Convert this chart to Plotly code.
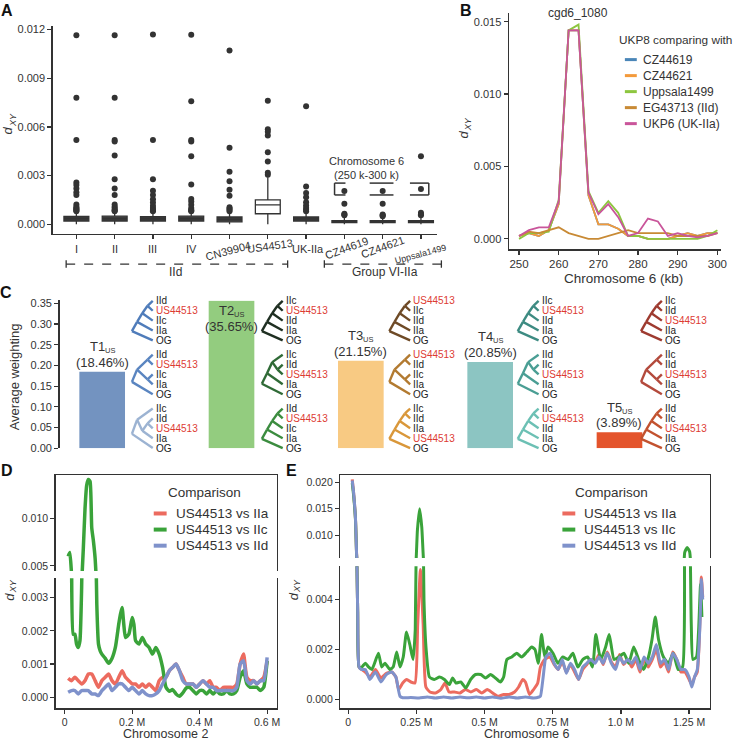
import plotly.graph_objects as go

W, H = 738, 747
def px(x): return x / W
def py(y): return 1 - y / H

FONT = "Arial, 'Liberation Sans', sans-serif"
DARK = "#333333"

# ---------------- Panel A data ----------------
A_CATS = ["I", "II", "III", "IV", "CN39904", "US44513", "UK-IIa", "CZ44619", "CZ44621", "Uppsala1499"]
A_Q1 = [0.0002, 0.0002, 0.0002, 0.0002, 0.00015, 0.00065, 0.0002, 0.0001, 0.0001, 0.0001]
A_MED = [0.00035, 0.00035, 0.00033, 0.00035, 0.0003, 0.0012, 0.00033, 0.00015, 0.00015, 0.00015]
A_Q3 = [0.00048, 0.0005, 0.00047, 0.0005, 0.00045, 0.0015, 0.00045, 0.00022, 0.00022, 0.00022]
A_LO = [0.0, 0.0, 0.0, 0.0, 0.0, 0.0, 0.0, 0.0, 0.0, 0.0]
A_HI = [0.00075, 0.00078, 0.00075, 0.00078, 0.00072, 0.0029, 0.00075, 0.0005, 0.00048, 0.0005]
OUT_I = [0.01166, 0.0078, 0.0052, 0.00257, 0.00242, 0.0022, 0.00197, 0.0018, 0.00122, 0.00108, 0.001, 0.00095, 0.0009, 0.00085, 0.0008]
OUT_II = [0.01166, 0.0078, 0.0052, 0.0051, 0.00424, 0.00278, 0.0022, 0.0018, 0.00122, 0.00108, 0.001, 0.0009, 0.00085, 0.0008]
OUT_III = [0.0117, 0.0052, 0.00278, 0.00207, 0.0018, 0.00155, 0.00135, 0.00115, 0.001, 0.0009, 0.00085, 0.0008]
OUT_IV = [0.01168, 0.00758, 0.0052, 0.0051, 0.0042, 0.00245, 0.00156, 0.0014, 0.0012, 0.001, 0.0009, 0.00085, 0.0008]
OUT_CN = [0.01072, 0.00472, 0.00324, 0.00266, 0.00213, 0.00176, 0.00105, 0.00095, 0.0009, 0.0008]
OUT_US = [0.00762, 0.00586, 0.0057, 0.00547, 0.00444, 0.00387, 0.00318, 0.00306]
OUT_UK = [0.00728, 0.00233, 0.00193, 0.00166, 0.00136, 0.00116, 0.001, 0.0009, 0.0008]
OUT_CZ19 = [0.00205, 0.00126, 0.00065, 0.0006, 0.00055]
OUT_CZ21 = [0.00205, 0.00126, 0.0006, 0.00055, 0.0005]
OUT_UPP = [0.0042, 0.00217, 0.00071, 0.00062, 0.00055]
A_OUTLIERS = [OUT_I, OUT_II, OUT_III, OUT_IV, OUT_CN, OUT_US, OUT_UK, OUT_CZ19, OUT_CZ21, OUT_UPP]
A_YTICKS = [0.0, 0.003, 0.006, 0.009, 0.012]

# ---------------- Panel B data ----------------
B_X = [250, 252.5, 255, 257.5, 260, 262.5, 265, 267.5, 270, 272.5, 275, 277.5, 280, 282.5, 285, 287.5, 290, 292.5, 295, 297.5, 300]
B_CZ44619 = [0.0002, 0.0004, 0.0002, 0.0006, 0.0024, 0.0144, 0.0144, 0.003, 0.001, 0.001, 0.0007, 0.0002, 0.0002, 0.0, 0.0, 0.0, 0.0002, 0.0004, 0.0002, 0.0004, 0.0004]
B_CZ44621 = [0.0002, 0.0004, 0.0002, 0.0006, 0.0024, 0.0144, 0.0144, 0.003, 0.001, 0.001, 0.0007, 0.0002, 0.0002, 0.0, 0.0, 0.0, 0.0002, 0.0004, 0.0002, 0.0004, 0.0004]
B_UPPSALA = [0.0, 0.0004, 0.0004, 0.0005, 0.0027, 0.0144, 0.0148, 0.0033, 0.0018, 0.0026, 0.0018, 0.0002, 0.0002, 0.0, 0.0, 0.0, 0.0, 0.0, 0.0, 0.0002, 0.0006]
B_EG43713 = [0.0002, 0.0005, 0.0004, 0.0006, 0.0008, 0.0004, 0.0002, 0.0, 0.0, 0.0002, 0.0004, 0.0006, 0.0004, 0.0004, 0.0004, 0.0004, 0.0002, 0.0002, 0.0002, 0.0002, 0.0004]
B_UKP6 = [0.0002, 0.0006, 0.0008, 0.0008, 0.0026, 0.0144, 0.0144, 0.0032, 0.0017, 0.0024, 0.0015, 0.0002, 0.0004, 0.0014, 0.0012, 0.0002, 0.0004, 0.0002, 0.0001, 0.0002, 0.0004]
B_NAMES = ["CZ44619", "CZ44621", "Uppsala1499", "EG43713 (IId)", "UKP6 (UK-IIa)"]
B_COLORS = ["#4a86b8", "#f39a3b", "#8dc63f", "#c88a35", "#c9559a"]

# ---------------- Panel C data ----------------
C_LABELS = ["T1", "T2", "T3", "T4", "T5"]
C_VALUES = [0.1846, 0.3565, 0.2115, 0.2085, 0.0389]
C_PCT = ["(18.46%)", "(35.65%)", "(21.15%)", "(20.85%)", "(3.89%)"]
C_COLORS = ["#7393c0", "#93cc7f", "#f8ca83", "#8cc5c2", "#e4542c"]
C_TREE_LABELS = [
    [["IId", "US44513", "IIc", "IIa", "OG"], ["IId", "US44513", "IIc", "IIa", "OG"], ["IIc", "IId", "US44513", "IIa", "OG"]],
    [["IIc", "US44513", "IId", "IIa", "OG"], ["IIc", "IId", "US44513", "IIa", "OG"], ["IId", "US44513", "IIc", "IIa", "OG"]],
    [["US44513", "IIc", "IId", "IIa", "OG"], ["US44513", "IId", "IIc", "IIa", "OG"], ["IIc", "IId", "IIa", "US44513", "OG"]],
    [["IIc", "US44513", "IId", "IIa", "OG"], ["IId", "IIc", "US44513", "IIa", "OG"], ["IIc", "US44513", "IId", "IIa", "OG"]],
    [["IIc", "IId", "US44513", "IIa", "OG"], ["IIc", "IId", "US44513", "IIa", "OG"], ["IId", "IIc", "US44513", "IIa", "OG"]],
]
C_TREE_TOPO = [
    [((((0, 1), 2), 3), 4), (((0, 1), (2, 3)), 4), ((0, ((1, 2), 3)), 4)],
    [((((0, 1), 2), 3), 4), (((0, (1, 2)), 3), 4), ((((0, 1), 2), 3), 4)],
    [((((0, 1), 2), 3), 4), (((0, 1), (2, 3)), 4), ((((0, 1), 2), 3), 4)],
    [((((0, 1), 2), 3), 4), (((0, (1, 2)), 3), 4), ((((0, 1), 2), 3), 4)],
    [((((0, 1), 2), 3), 4), (((0, 1), (2, 3)), 4), ((((0, 1), 2), 3), 4)],
]
C_TREE_COLORS = [
    ["#4f7cba", "#5a85c0", "#9cb3d2"],
    ["#1f2f22", "#2f6a36", "#3b8c3f"],
    ["#6e4a26", "#b27a30", "#d9973a"],
    ["#3d8b82", "#4a9e94", "#6cc0b4"],
    ["#9e3b30", "#b34a3c", "#c2522f"],
]

# ---------------- Panel D data ----------------
D_X = [0.01, 0.02, 0.03, 0.04, 0.05, 0.06, 0.07, 0.08, 0.09, 0.1, 0.11, 0.12, 0.13, 0.14, 0.15, 0.16, 0.17, 0.18, 0.19, 0.2,
       0.21, 0.22, 0.23, 0.24, 0.25, 0.26, 0.27, 0.28, 0.29, 0.3, 0.31, 0.32, 0.33, 0.34, 0.35, 0.36, 0.37, 0.38, 0.39, 0.4,
       0.41, 0.42, 0.43, 0.44, 0.45, 0.46, 0.47, 0.48, 0.49, 0.5, 0.51, 0.52, 0.53, 0.54, 0.55, 0.56, 0.57, 0.58, 0.59, 0.6]
D_IIA = [0.00057, 0.0005, 0.0006, 0.0005, 0.0004, 0.0005, 0.0007, 0.0007, 0.0005, 0.0003, 0.0005, 0.0006, 0.0007, 0.0005, 0.0004, 0.0006, 0.0008, 0.0006, 0.0005, 0.0004,
         0.0004, 0.0003, 0.0004, 0.0003, 0.0004, 0.0003, 0.0002, 0.0005, 0.0006, 0.0006, 0.0008, 0.0009, 0.001, 0.0008, 0.0006, 0.0004, 0.0004, 0.0004, 0.0003, 0.0004,
         0.0005, 0.0004, 0.0005, 0.0003, 0.0003, 0.0002, 0.0003, 0.0003, 0.0003, 0.0003, 0.0004, 0.001, 0.0013, 0.0006, 0.0005, 0.0005, 0.0004, 0.0005, 0.0006, 0.0011]
D_IID = [0.00015, 0.0002, 0.0002, 0.0001, 0.0002, 0.0002, 0.0002, 0.0001, 0.0001, 0.00005, 0.0002, 0.0003, 0.0004, 0.0002, 0.0003, 0.0004, 0.0004, 0.0003, 0.0002, 0.0003,
         0.0002, 0.0001, 0.0002, 0.0001, 0.00005, 0.00005, 0.0001, 0.0002, 0.0004, 0.0006, 0.0008, 0.0009, 0.001, 0.0008, 0.0005, 0.0004, 0.0004, 0.0004, 0.0003, 0.0004,
         0.0005, 0.0004, 0.0003, 0.0003, 0.0002, 0.0002, 0.0002, 0.0002, 0.0002, 0.0002, 0.0003, 0.001, 0.0011, 0.0005, 0.0004, 0.0005, 0.0004, 0.0005, 0.0005, 0.0012]
D_IIC_X = [0.01, 0.015, 0.02, 0.025, 0.03, 0.035, 0.04, 0.045, 0.05, 0.055, 0.06, 0.065, 0.07, 0.075, 0.08, 0.085, 0.09, 0.095, 0.1, 0.105,
           0.11, 0.12, 0.13, 0.14, 0.15, 0.16, 0.165, 0.17, 0.175, 0.18, 0.19, 0.2, 0.205, 0.21, 0.22, 0.23, 0.24, 0.25, 0.26, 0.27,
           0.28, 0.29, 0.3, 0.31, 0.32, 0.33, 0.34, 0.35, 0.36, 0.37, 0.38, 0.39, 0.4, 0.41, 0.42, 0.43, 0.44, 0.45, 0.46, 0.47,
           0.48, 0.49, 0.5, 0.51, 0.52, 0.53, 0.54, 0.55, 0.56, 0.57, 0.58, 0.59, 0.6]
D_IIC = [0.006, 0.0064, 0.0042, 0.0019, 0.0019, 0.0016, 0.0015, 0.0017, 0.0033, 0.0068, 0.011, 0.0135, 0.0141, 0.0139, 0.009, 0.0076, 0.0058, 0.0028, 0.0016, 0.0014,
         0.0013, 0.00117, 0.00102, 0.00117, 0.0015, 0.0022, 0.0025, 0.0027, 0.0022, 0.0018, 0.0019, 0.0024, 0.0022, 0.0017, 0.0016, 0.0018, 0.0016, 0.0015, 0.0013, 0.0015,
         0.0013, 0.0009, 0.0003, 0.00018, 0.00023, 0.0001, 0.00003, 0.00013, 0.00028, 0.0003, 0.0002, 0.0001, 0.0002, 0.0002, 0.0001, 0.0002, 0.0001, 0.0002, 0.0001, 0.0001,
         0.0002, 0.0001, 0.0001, 0.0002, 0.0006, 0.0008, 0.0004, 0.0003, 0.0003, 0.0003, 0.0002, 0.0003, 0.0011]

# ---------------- Panel E data ----------------
E_IIA_X = [0.015, 0.02, 0.027, 0.031, 0.035, 0.04, 0.05, 0.063, 0.08, 0.1, 0.12, 0.14, 0.16, 0.175, 0.185, 0.2, 0.215, 0.23, 0.245, 0.255,
           0.265, 0.275, 0.285, 0.3, 0.32, 0.34, 0.355, 0.37, 0.39, 0.41, 0.43, 0.45, 0.47, 0.49, 0.51, 0.53, 0.55, 0.57, 0.59, 0.61,
           0.625, 0.64, 0.65, 0.665, 0.68, 0.695, 0.705, 0.72, 0.74, 0.755, 0.77, 0.785, 0.8, 0.815, 0.83, 0.845, 0.86, 0.875, 0.89, 0.905,
           0.92, 0.935, 0.95, 0.965, 0.98, 0.995, 1.01, 1.025, 1.04, 1.055, 1.07, 1.085, 1.1, 1.115, 1.13, 1.145, 1.16, 1.175, 1.19, 1.205,
           1.22, 1.235, 1.25, 1.26, 1.27, 1.28, 1.29, 1.295, 1.3]
E_IIA = [0.0205, 0.018, 0.013, 0.0065, 0.0035, 0.0013, 0.0012, 0.0011, 0.0009, 0.0012, 0.00086, 0.00105, 0.0011, 0.0009, 0.0004, 0.00066, 0.0008, 0.0007, 0.00066, 0.003,
         0.0052, 0.003, 0.0005, 0.0003, 0.00026, 0.0004, 0.00066, 0.0003, 0.0003, 0.00026, 0.0004, 0.0003, 0.0004, 0.00026, 0.0004, 0.00026, 0.00013, 0.0002, 0.0002, 0.0003,
         0.0005, 0.0008, 0.0007, 0.0002, 0.0004, 0.00066, 0.0013, 0.0016, 0.0017, 0.0014, 0.0012, 0.0015, 0.0011, 0.0014, 0.0011, 0.0008, 0.0012, 0.0014, 0.0016, 0.0015,
         0.0018, 0.0014, 0.0019, 0.0015, 0.0013, 0.0018, 0.0014, 0.0016, 0.0013, 0.0016, 0.0011, 0.0016, 0.0013, 0.0016, 0.002, 0.0013, 0.0015, 0.0011, 0.0019, 0.0016,
         0.0011, 0.0011, 0.0008, 0.0006, 0.0009, 0.0011, 0.0032, 0.0049, 0.0041]
E_IID_X = [0.015, 0.02, 0.027, 0.031, 0.035, 0.04, 0.05, 0.063, 0.08, 0.1, 0.12, 0.14, 0.16, 0.175, 0.19, 0.2, 0.23, 0.26, 0.29, 0.32,
           0.35, 0.38, 0.41, 0.44, 0.47, 0.5, 0.53, 0.56, 0.59, 0.62, 0.65, 0.68, 0.7, 0.705, 0.715, 0.725, 0.74, 0.755, 0.77, 0.785,
           0.8, 0.815, 0.83, 0.845, 0.86, 0.875, 0.89, 0.905, 0.92, 0.935, 0.95, 0.965, 0.98, 0.995, 1.01, 1.025, 1.04, 1.055, 1.07, 1.085,
           1.1, 1.115, 1.13, 1.145, 1.16, 1.175, 1.19, 1.205, 1.22, 1.235, 1.25, 1.26, 1.27, 1.28, 1.29, 1.295, 1.3]
E_IID = [0.0203, 0.018, 0.0131, 0.0064, 0.0035, 0.0013, 0.0012, 0.0012, 0.0008, 0.0011, 0.0007, 0.001, 0.0011, 0.0009, 0.00013, 0.00007, 0.00008, 0.00006, 0.0001, 0.00006,
         0.0001, 0.00006, 0.0001, 0.00007, 0.0001, 0.00006, 0.0001, 0.00005, 0.0001, 0.00006, 0.0001, 0.00006, 0.0001, 0.00013, 0.0009, 0.0017, 0.00185, 0.00145, 0.0012, 0.0016,
         0.00105, 0.00145, 0.0012, 0.0008, 0.0013, 0.00145, 0.0016, 0.00145, 0.0017, 0.00145, 0.00185, 0.00145, 0.0012, 0.0017, 0.00145, 0.0016, 0.00145, 0.0017, 0.0012, 0.0017,
         0.00145, 0.0017, 0.0022, 0.00145, 0.0016, 0.0012, 0.00185, 0.0016, 0.0012, 0.0012, 0.0009, 0.0005, 0.0009, 0.0012, 0.003, 0.0048, 0.004]
E_IIC_X = [0.015, 0.02, 0.027, 0.031, 0.035, 0.04, 0.05, 0.063, 0.075, 0.087, 0.111, 0.123, 0.135, 0.153, 0.165, 0.178, 0.19, 0.202, 0.214, 0.226,
           0.238, 0.246, 0.254, 0.262, 0.27, 0.278, 0.286, 0.298, 0.316, 0.335, 0.353, 0.371, 0.383, 0.395, 0.413, 0.431, 0.449, 0.467, 0.486, 0.504,
           0.522, 0.54, 0.558, 0.57, 0.582, 0.6, 0.618, 0.636, 0.655, 0.673, 0.685, 0.697, 0.709, 0.721, 0.733, 0.751, 0.769, 0.787, 0.806, 0.824,
           0.842, 0.86, 0.878, 0.896, 0.908, 0.926, 0.944, 0.957, 0.975, 0.993, 1.011, 1.029, 1.047, 1.065, 1.083, 1.101, 1.114, 1.126, 1.138, 1.156,
           1.174, 1.192, 1.21, 1.226, 1.234, 1.243, 1.252, 1.258, 1.264, 1.277, 1.285, 1.292, 1.297]
E_IIC = [0.0198, 0.0175, 0.0128, 0.0063, 0.0035, 0.0013, 0.0013, 0.00145, 0.0013, 0.0012, 0.00185, 0.0013, 0.00145, 0.0012, 0.0013, 0.0019, 0.0013, 0.0017, 0.0027, 0.0022,
         0.0016, 0.0028, 0.011, 0.015, 0.0115, 0.004, 0.002, 0.0009, 0.0008, 0.0009, 0.0008, 0.0006, 0.00086, 0.00066, 0.0007, 0.00046, 0.0008, 0.001, 0.001, 0.00086,
         0.001, 0.00086, 0.0007, 0.0009, 0.0016, 0.0017, 0.00185, 0.0017, 0.0019, 0.0021, 0.002, 0.00145, 0.0026, 0.0017, 0.0021, 0.00185, 0.00145, 0.0017, 0.0016, 0.00185,
         0.0013, 0.0016, 0.0017, 0.0013, 0.0026, 0.0016, 0.0021, 0.0026, 0.0016, 0.0017, 0.00185, 0.00145, 0.0021, 0.0016, 0.0012, 0.0017, 0.0024, 0.0033, 0.0024, 0.0017,
         0.00145, 0.00185, 0.0012, 0.0013, 0.0068, 0.0077, 0.0069, 0.003, 0.0016, 0.0017, 0.0028, 0.0046, 0.0033]

DE_NAMES = ["US44513 vs IIa", "US44513 vs IIc", "US44513 vs IId"]
DE_COLORS = ["#ec6b5f", "#3aa33a", "#7f92cb"]

# ================= build figure =================
fig = go.Figure()
shapes, annos = [], []

def ann(x, y, text, size=11, color=DARK, xanchor="center", yanchor="middle", angle=0, bold=False, xref="paper", yref="paper", **kw):
    if bold:
        text = "<b>" + text + "</b>"
    annos.append(dict(x=x, y=y, xref=xref, yref=yref, text=text, showarrow=False,
                      xanchor=xanchor, yanchor=yanchor, textangle=angle,
                      font=dict(size=size, color=color, family=FONT), **kw))

def line(x0, y0, x1, y1, color=DARK, width=1.3, dash="solid"):
    shapes.append(dict(type="line", xref="paper", yref="paper", x0=px(x0), y0=py(y0), x1=px(x1), y1=py(y1),
                       line=dict(color=color, width=width, dash=dash)))

def dxy_title(xc, yc):
    # rotated italic "d" with smaller subscript "XY" (reads bottom-to-top)
    ann(px(xc - 1.5), py(yc + 5.5), "<i>d</i>", size=13, angle=-90, borderpad=0)
    ann(px(xc + 2.5), py(yc - 5), "<i>XY</i>", size=9, angle=-90, borderpad=0)

# ---- Panel A ----
pos = list(range(len(A_CATS)))
dark_idx = [i for i in pos if A_CATS[i] != "US44513"]
white_idx = [i for i in pos if A_CATS[i] == "US44513"]
for idx, fill in ((dark_idx, "#3a3a3a"), (white_idx, "white")):
    fig.add_trace(go.Box(x=[pos[i] for i in idx], q1=[A_Q1[i] for i in idx], median=[A_MED[i] for i in idx],
                         q3=[A_Q3[i] for i in idx], lowerfence=[A_LO[i] for i in idx], upperfence=[A_HI[i] for i in idx],
                         width=0.65, whiskerwidth=0, fillcolor=fill, line=dict(color=DARK, width=1.3),
                         boxpoints=False, xaxis="x", yaxis="y", showlegend=False, hoverinfo="skip"))
ox, oy = [], []
for i, outs in enumerate(A_OUTLIERS):
    ox += [pos[i]] * len(outs)
    oy += outs
fig.add_trace(go.Scatter(x=ox, y=oy, mode="markers", marker=dict(color=DARK, size=6), xaxis="x", yaxis="y",
                         showlegend=False, hoverinfo="skip"))

# ---- Panel B ----
for vals, name, col in zip([B_CZ44619, B_CZ44621, B_UPPSALA, B_EG43713, B_UKP6], B_NAMES, B_COLORS):
    fig.add_trace(go.Scatter(x=B_X, y=vals, mode="lines", line=dict(color=col, width=1.8), name=name,
                             xaxis="x2", yaxis="y2", showlegend=False, hoverinfo="skip"))

# ---- Panel C ----
fig.add_trace(go.Bar(x=list(range(len(C_VALUES))), y=C_VALUES, width=0.353, marker=dict(color=C_COLORS, line=dict(width=0)),
                     xaxis="x3", yaxis="y3", showlegend=False, hoverinfo="skip"))

# ---- Panel D & E (broken axes: bottom + top parts) ----
for xs, ys, col in ((D_X, D_IIA, DE_COLORS[0]), (D_IIC_X, D_IIC, DE_COLORS[1]), (D_X, D_IID, DE_COLORS[2])):
    for xa, ya in (("x4", "y4"), ("x5", "y5")):
        fig.add_trace(go.Scatter(x=xs, y=ys, mode="lines", line=dict(color=col, width=3.5, shape="spline", smoothing=0.5),
                                 xaxis=xa, yaxis=ya, showlegend=False, hoverinfo="skip"))
for xs, ys, col in ((E_IIA_X, E_IIA, DE_COLORS[0]), (E_IIC_X, E_IIC, DE_COLORS[1]), (E_IID_X, E_IID, DE_COLORS[2])):
    for xa, ya in (("x6", "y6"), ("x7", "y7")):
        fig.add_trace(go.Scatter(x=xs, y=ys, mode="lines", line=dict(color=col, width=3, shape="spline", smoothing=0.5),
                                 xaxis=xa, yaxis=ya, showlegend=False, hoverinfo="skip"))

# ---------- axes ----------
def ax_common(**kw):
    d = dict(showgrid=False, zeroline=False, showline=True, linecolor=DARK, linewidth=1.3,
             ticks="outside", ticklen=4, tickwidth=1.2, tickcolor=DARK,
             tickfont=dict(size=11, color=DARK, family=FONT), fixedrange=True)
    d.update(kw)
    return d

TF105 = dict(size=10.5, color=DARK, family=FONT)
layout = dict(
    width=W, height=H, margin=dict(l=0, r=0, t=0, b=0), paper_bgcolor="white", plot_bgcolor="rgba(0,0,0,0)",
    font=dict(family=FONT, color=DARK), hovermode=False, showlegend=False,
    # A
    xaxis=ax_common(domain=[px(53), px(441)], range=[-0.622, 9.43], tickvals=pos, showticklabels=False, anchor="y"),
    yaxis=ax_common(domain=[py(234), py(23)], range=[-0.00061, 0.01224], tickvals=A_YTICKS, tickformat=".3f", anchor="x"),
    # B
    xaxis2=ax_common(domain=[px(513), px(727)], range=[247.43, 300.93], tickvals=[250, 260, 270, 280, 290, 300],
                     tickfont=dict(size=11.5, color=DARK, family=FONT), anchor="y2"),
    yaxis2=ax_common(domain=[py(249.3), py(10)], range=[-0.00072, 0.01561], tickvals=[0, 0.005, 0.01, 0.015], tickformat=".3f", anchor="x2"),
    # C
    xaxis3=dict(domain=[px(60), 1], range=[-0.33, 4.87], visible=False, fixedrange=True, anchor="y3"),
    yaxis3=ax_common(domain=[py(450.7), py(301.1)], range=[0, 0.357], tickvals=[0, .05, .1, .15, .2, .25, .3, .35],
                     tickformat=".2f", anchor="x3"),
    # D bottom / top
    xaxis4=ax_common(domain=[px(56), px(279)], range=[-0.02735, 0.6285], tickvals=[0, 0.2, 0.4, 0.6],
                     ticktext=["0", "0.2 M", "0.4 M", "0.6 M"], tickfont=TF105, anchor="y4"),
    yaxis4=ax_common(domain=[py(714), py(582.3)], range=[-0.000336, 0.003583], tickvals=[0, 0.001, 0.002, 0.003],
                     tickformat=".3f", mirror=True, tickfont=TF105, anchor="x4"),
    xaxis5=ax_common(domain=[px(56), px(279)], range=[-0.02735, 0.6285], side="top", ticks="", showticklabels=False,
                     anchor="y5", matches="x4"),
    yaxis5=ax_common(domain=[py(575), py(477.7)], range=[0.00445, 0.01458], tickvals=[0.005, 0.01], tickformat=".3f",
                     mirror=True, tickfont=TF105, anchor="x5"),
    # E bottom / top
    xaxis6=ax_common(domain=[px(343), px(716)], range=[-0.0291, 1.3273], tickvals=[0, 0.25, 0.5, 0.75, 1.0, 1.25],
                     ticktext=["0", "0.25 M", "0.5 M", "0.75 M", "1.0 M", "1.25 M"], tickfont=TF105, anchor="y6"),
    yaxis6=ax_common(domain=[py(714), py(570)], range=[-0.000356, 0.005336], tickvals=[0, 0.002, 0.004], tickformat=".3f",
                     mirror=True, tickfont=TF105, anchor="x6"),
    xaxis7=ax_common(domain=[px(343), px(716)], range=[-0.0291, 1.3273], side="top", ticks="", showticklabels=False,
                     anchor="y7", matches="x6"),
    yaxis7=ax_common(domain=[py(561.7), py(477.7)], range=[0.00574, 0.02135], tickvals=[0.01, 0.015, 0.02], tickformat=".3f",
                     mirror=True, tickfont=TF105, anchor="x7"),
)

# ---------- Panel A annotations ----------
ann(px(7), py(8), "A", size=16, bold=True, color="#111")
dxy_title(10, 123)
a_label_spec = [  # (dx in category units, y px, angle, size)
    (0, 249, 0, 11), (0, 249, 0, 11), (0, 249, 0, 11), (0, 249, 0, 11),
    (-0.05, 251, -15, 11), (0.05, 246, -8, 11), (0.05, 249, 0, 11),
    (0.05, 248, -20, 11), (0.0, 247, -20, 11), (0.0, 254, -15, 9),
]
for i, (dx, ypx, ang, sz) in enumerate(a_label_spec):
    ann(pos[i] + dx, py(ypx), A_CATS[i], size=sz, angle=ang, xref="x")
# group lines
line(66.7, 264.3, 290, 264.3, dash="dash", width=1.3)
line(66.7, 260.5, 66.7, 268, width=1.3)
line(290, 260.5, 290, 268, width=1.3)
line(327, 264.3, 445, 264.3, dash="dash", width=1.3)
line(327, 260.5, 327, 268, width=1.3)
line(445, 260.5, 445, 268, width=1.3)
ann(px(177), py(272), "IId", size=12)
ann(px(388), py(272), "Group VI-IIa", size=12)
ann(px(370), py(160), "Chromosome 6", size=11)
ann(px(370), py(174), "(250 k-300 k)", size=11)
# brackets
line(337.3, 182.3, 348.3, 182.3, width=1.5)
line(337.3, 194.3, 348.3, 194.3, width=1.5)
line(337.3, 182.3, 337.3, 194.3, width=1.5)
line(372.7, 182.3, 396.7, 182.3, width=1.5)
line(372.7, 194.3, 396.7, 194.3, width=1.5)
line(413.3, 182.3, 432.3, 182.3, width=1.5)
line(413.3, 194.3, 432.3, 194.3, width=1.5)
line(432.3, 182.3, 432.3, 194.3, width=1.5)

# ---------- Panel B annotations ----------
ann(px(470), py(8), "B", size=16, bold=True, color="#111")
dxy_title(469, 128)
ann(px(583), py(10), "cgd6_1080", size=12)
ann(px(629), py(279), "Chromosome 6 (kb)", size=13.5)
ann(px(621.7), py(37.7), "UKP8 comparing with", size=11.8, xanchor="left")
for k, (name, col) in enumerate(zip(B_NAMES, B_COLORS)):
    yy = 57.3 + k * 16.2
    line(630, yy, 642, yy, color=col, width=3)
    ann(px(646.7), py(yy), name, size=12, xanchor="left")

# ---------- Panel C annotations ----------
ann(px(6), py(293), "C", size=16, bold=True, color="#111")
ann(px(15), py(378), "Average weighting", size=13, angle=-90)
for i, (lab, pct, v) in enumerate(zip(C_LABELS, C_PCT, C_VALUES)):
    if lab == "T2":
        ann(i, py(311.3), lab, size=13, xref="x3", xshift=-5, borderpad=0)
        ann(i, py(311.3), "US", size=7.5, xref="x3", xanchor="left", xshift=1.5, yshift=-4, borderpad=0)
        ann(i, py(327.3), pct, size=13, xref="x3")
    else:
        ann(i, v, lab, size=13, xref="x3", yref="y3", yshift=25, xshift=-5, borderpad=0)
        ann(i, v, "US", size=7.5, xref="x3", yref="y3", xanchor="left", xshift=1.5, yshift=21, borderpad=0)
        ann(i, v, pct, size=13, xref="x3", yref="y3", yshift=9.5)

TREE_LABEL_X = [156, 287, 415.5, 545, 669.3]
TREE_TOPS = [301.5, 356, 410.5]
ROW = 10.0
TW = 21.0

def tree_edges(topo, lx, top):
    leaf_y = [top + r * ROW for r in range(5)]
    xl = lx - 2
    edges = []
    def rec(node):
        if isinstance(node, int):
            return (xl, leaf_y[node], 1)
        kids = [rec(c) for c in node]
        n = sum(k[2] for k in kids)
        x = xl - TW * (n - 1) / 4
        y = sum(k[1] for k in kids) / len(kids)
        for k in kids:
            edges.append((x, y, k[0], k[1]))
        return (x, y, n)
    rec(topo)
    return edges, leaf_y

for g in range(5):
    for t in range(3):
        edges, leaf_y = tree_edges(C_TREE_TOPO[g][t], TREE_LABEL_X[g], TREE_TOPS[t])
        col = C_TREE_COLORS[g][t]
        for (x0, y0, x1, y1) in edges:
            line(x0, y0, x1, y1, color=col, width=2.4)
        for r, lab in enumerate(C_TREE_LABELS[g][t]):
            ann(px(TREE_LABEL_X[g]), py(leaf_y[r]), lab, size=10, xanchor="left",
                color="#dd3b33" if lab == "US44513" else "#222222", borderpad=0)

# ---------- Panel D / E annotations ----------
ann(px(7), py(473), "D", size=16, bold=True, color="#111")
ann(px(294), py(473), "E", size=16, bold=True, color="#111")
dxy_title(11, 595)
dxy_title(297, 595)
ann(px(167), py(740), "Chromosome 2", size=12.5)
ann(px(531), py(740), "Chromosome 6", size=12.5)
for (tx, sx0, sx1, lx) in ((206, 155, 168, 175), (617, 567, 580, 587)):
    ann(px(tx), py(495), "Comparison", size=13.5)
    for k, (name, col) in enumerate(zip(DE_NAMES, DE_COLORS)):
        yy = 516.7 + k * 16.3
        line(sx0, yy, sx1, yy, color=col, width=4)
        ann(px(lx), py(yy), name, size=13.5, xanchor="left")

layout["shapes"] = shapes
layout["annotations"] = annos
fig.update_layout(**layout)
fig.write_html("out.html", config={"displayModeBar": False, "staticPlot": True},
               post_script="document.body.style.margin='0';document.body.style.overflow='hidden';")
